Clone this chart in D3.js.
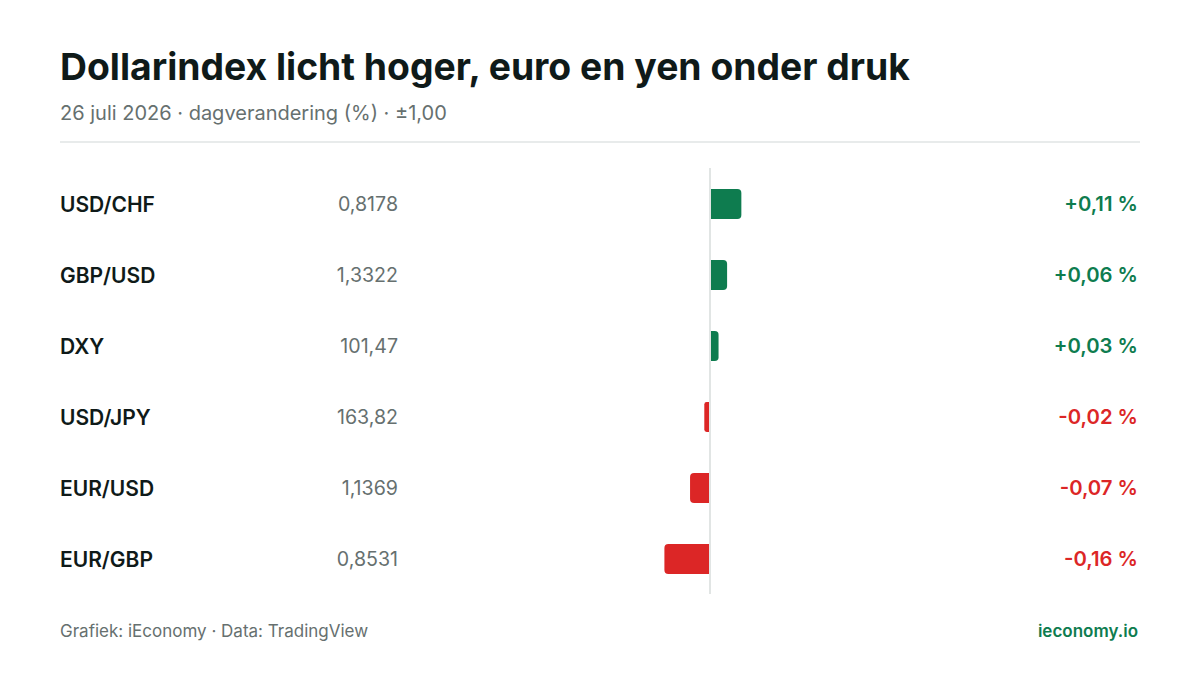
<!DOCTYPE html>
<html>
<head>
<meta charset="utf-8">
<script src="https://cdn.jsdelivr.net/npm/d3@7"></script>
<style>
  body { margin: 0; background: #fff; }
  svg { display: block; font-family: Inter, "Noto Sans", sans-serif; }
</style>
</head>
<body>
<div id="chart"></div>
<script>
// Data
const pairs = ["USD/CHF", "GBP/USD", "DXY", "USD/JPY", "EUR/USD", "EUR/GBP"];
const rates = ["0,8178", "1,3322", "101,47", "163,82", "1,1369", "0,8531"];
const changes = [0.11, 0.06, 0.03, -0.02, -0.07, -0.16];
const domainMax = 1.0;

const width = 1200, height = 675;
const green = "#0e7c4f", red = "#dc2626";

const svg = d3.select("#chart").append("svg")
    .attr("width", width)
    .attr("height", height);

// Title block
svg.append("text")
    .attr("x", 60).attr("y", 80)
    .attr("font-size", "37.3px")
    .attr("font-weight", 700)
    .attr("fill", "#0f1a19")
    .text("Dollarindex licht hoger, euro en yen onder druk");

svg.append("text")
    .attr("x", 60).attr("y", 120)
    .attr("font-size", "20px")
    .attr("fill", "#66706f")
    .text("26 juli 2026 · dagverandering (%) · ±1,00");

svg.append("line")
    .attr("x1", 60).attr("x2", 1140)
    .attr("y1", 142).attr("y2", 142)
    .attr("stroke", "#e1e5e4")
    .attr("stroke-width", 1.5);

// Scales
const x = d3.scaleLinear()
    .domain([-domainMax, domainMax])
    .range([425, 995]);

const y = d3.scaleBand()
    .domain(pairs)
    .range([168.5, 594.5])
    .paddingInner(0.58)
    .paddingOuter(0.29);

const rows = pairs.map((p, i) => ({ pair: p, rate: rates[i], change: changes[i] }));

// Zero line
svg.append("line")
    .attr("x1", x(0)).attr("x2", x(0))
    .attr("y1", 168).attr("y2", 594)
    .attr("stroke", "#e1e5e4")
    .attr("stroke-width", 2);

// Bars with a rounded outer end
const r = 4;
function barPath(d) {
    const x0 = x(0) + (d.change >= 0 ? 1 : -1);
    const x1 = x(d.change);
    const y0 = y(d.pair), h = y.bandwidth();
    const s = d.change >= 0 ? 1 : -1;
    const rr = Math.min(r, Math.abs(x1 - x0) / 2);
    return `M${x0},${y0} L${x1 - s * rr},${y0} Q${x1},${y0} ${x1},${y0 + rr}`
         + ` L${x1},${y0 + h - rr} Q${x1},${y0 + h} ${x1 - s * rr},${y0 + h} L${x0},${y0 + h} Z`;
}

svg.selectAll(".bar")
    .data(rows)
  .enter().append("path")
    .attr("class", "bar")
    .attr("d", barPath)
    .attr("fill", d => d.change >= 0 ? green : red);

// Labels
const mid = d => y(d.pair) + y.bandwidth() / 2;

svg.selectAll(".pair")
    .data(rows)
  .enter().append("text")
    .attr("class", "pair")
    .attr("x", 60)
    .attr("y", mid)
    .attr("dy", "0.36em")
    .attr("font-size", "21px")
    .attr("font-weight", 600)
    .attr("fill", "#0f1a19")
    .text(d => d.pair);

svg.selectAll(".rate")
    .data(rows)
  .enter().append("text")
    .attr("class", "rate")
    .attr("x", 398)
    .attr("y", mid)
    .attr("dy", "0.36em")
    .attr("text-anchor", "end")
    .attr("font-size", "19.6px")
    .attr("fill", "#66706f")
    .text(d => d.rate);

const fmt = v => (v > 0 ? "+" : "-") + Math.abs(v).toFixed(2).replace(".", ",") + " %";

svg.selectAll(".pct")
    .data(rows)
  .enter().append("text")
    .attr("class", "pct")
    .attr("x", 1138)
    .attr("y", mid)
    .attr("dy", "0.36em")
    .attr("text-anchor", "end")
    .attr("font-size", "20.3px")
    .attr("font-weight", 600)
    .attr("fill", d => d.change >= 0 ? green : red)
    .text(d => fmt(d.change));

// Footer
svg.append("text")
    .attr("x", 60).attr("y", 637)
    .attr("font-size", "17px")
    .attr("fill", "#66706f")
    .text("Grafiek: iEconomy · Data: TradingView");

svg.append("text")
    .attr("x", 1138).attr("y", 637)
    .attr("text-anchor", "end")
    .attr("font-size", "17px")
    .attr("font-weight", 600)
    .attr("fill", green)
    .text("ieconomy.io");
</script>
</body>
</html>
